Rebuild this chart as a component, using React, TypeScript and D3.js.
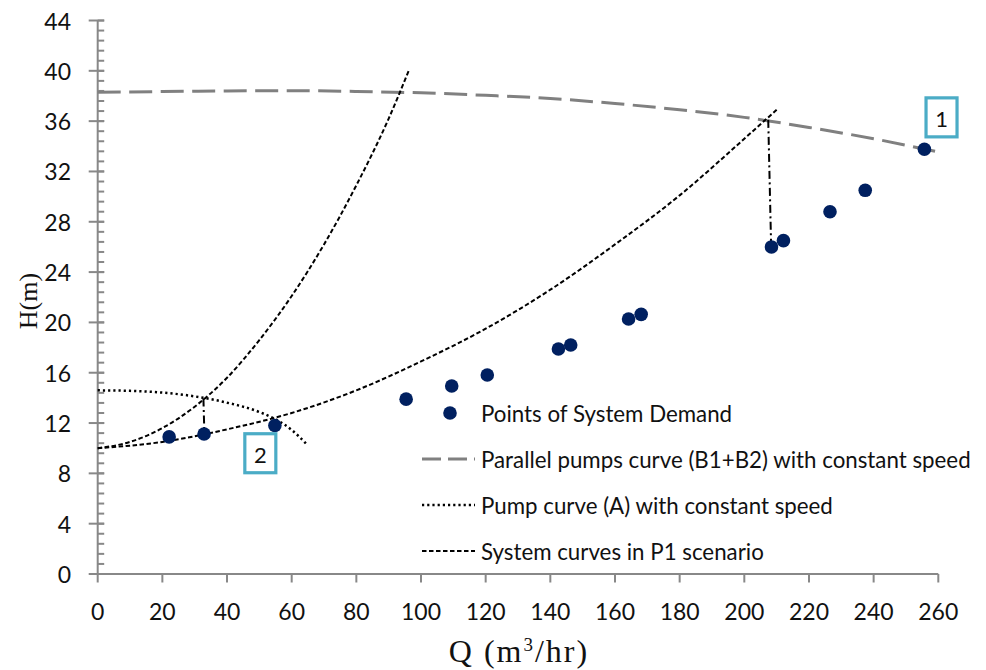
import React from "react";
import * as d3 from "d3";

// ---- data ----
const demandQ = [22.1, 32.9, 54.8, 95.4, 109.5, 120.5, 142.5, 146.3, 164.2, 168.1, 208.4, 212.1, 226.5, 237.4, 255.7];
const demandH = [10.9, 11.13, 11.8, 13.9, 14.94, 15.82, 17.89, 18.2, 20.27, 20.64, 26.0, 26.5, 28.8, 30.5, 33.76];

const parallelQ = [0, 20, 40, 60, 80, 100, 120, 140, 160, 180, 200, 220, 240, 259];
const parallelH = [38.3, 38.35, 38.4, 38.42, 38.36, 38.25, 38.05, 37.8, 37.4, 36.9, 36.3, 35.5, 34.6, 33.6];

const pumpAQ = [0, 10, 20, 30, 40, 50, 55, 60, 64.5];
const pumpAH = [14.6, 14.56, 14.42, 14.12, 13.62, 12.88, 12.3, 11.45, 10.35];

const sysSteepQ = [0, 10, 20, 30, 40, 50, 60, 70, 80, 90, 96.2];
const sysSteepH = [10, 10.5, 11.6, 13.3, 15.6, 18.6, 22.1, 26.2, 30.9, 36.2, 40.0];

const sysLowQ = [0, 20, 40, 60, 80, 100, 120, 140, 160, 180, 200, 210];
const sysLowH = [10, 10.5, 11.5, 12.8, 14.6, 16.9, 19.5, 22.6, 26.2, 30.1, 34.6, 36.9];

// operating-point drop lines (Q, H) pairs
const dropLines = [
  [[32.7, 13.95], [33.0, 11.1]],
  [[207.4, 36.1], [208.3, 26.0]],
];

const annotations = [
  { label: "1", q: 261, h: 36.3 },
  { label: "2", q: 50.3, h: 9.6 },
];

const xTicks = [0, 20, 40, 60, 80, 100, 120, 140, 160, 180, 200, 220, 240, 260];
const yTicks = [0, 4, 8, 12, 16, 20, 24, 28, 32, 36, 40, 44];
const yMinorTicks = d3.range(0, 44.001, 0.8);

const legendItems = [
  { label: "Points of System Demand", kind: "point" },
  { label: "Parallel pumps curve (B1+B2) with constant speed", kind: "parallel" },
  { label: "Pump curve (A) with constant speed", kind: "pumpA" },
  { label: "System curves in P1 scenario", kind: "system" },
];

const W = 986;
const H = 670;
const AXIS = "#888888";
const NAVY = "#002060";
const TEAL = "#4BACC6";
const FONT = "Lato, 'Open Sans', sans-serif";
const SERIF = "'Liberation Serif', 'DejaVu Serif', serif";

const styles: Record<string, { stroke: string; width: number; dash: string }> = {
  parallel: { stroke: "#808080", width: 3, dash: "23,8.5" },
  pumpA: { stroke: "#000", width: 2.5, dash: "2.2,3" },
  system: { stroke: "#000", width: 2, dash: "4.5,2.5" },
};

export default function App() {
  const x = d3.scaleLinear().domain([0, 260]).range([97.7, 938.3]);
  const y = d3.scaleLinear().domain([0, 44]).range([574, 20.5]);
  const line = d3
    .line<[number, number]>()
    .x((d) => x(d[0]))
    .y((d) => y(d[1]))
    .curve(d3.curveMonotoneX);
  const zip = (a: number[], b: number[]) => a.map((v, i) => [v, b[i]] as [number, number]);

  const curves = [
    { pts: zip(parallelQ, parallelH), st: styles.parallel },
    { pts: zip(pumpAQ, pumpAH), st: styles.pumpA },
    { pts: zip(sysSteepQ, sysSteepH), st: styles.system },
    { pts: zip(sysLowQ, sysLowH), st: styles.system },
  ];

  const legendX = 450;
  const legendY0 = 413;
  const legendStep = 46;

  return (
    <svg
      width={W}
      height={H}
      style={{ position: "absolute", left: 0, top: 0, background: "#fff" }}
      xmlns="http://www.w3.org/2000/svg"
    >
      <rect width={W} height={H} fill="#fff" />
      {/* axes */}
      <g stroke={AXIS} strokeWidth={2} fill="none">
        <line x1={x(0)} x2={x(0)} y1={y(0)} y2={y(44)} />
        <line x1={x(0)} x2={x(260)} y1={y(0)} y2={y(0)} />
        {yMinorTicks.map((t) => (
          <line key={"m" + t} x1={x(0)} x2={x(0) + 6.5} y1={y(t)} y2={y(t)} />
        ))}
        {yTicks.map((t) => (
          <line key={"y" + t} x1={x(0) - 9} x2={x(0) + 6.5} y1={y(t)} y2={y(t)} />
        ))}
        {xTicks.map((t) => (
          <line key={"x" + t} x1={x(t)} x2={x(t)} y1={y(0)} y2={y(0) + 8.5} />
        ))}
      </g>
      <g fontFamily={FONT} fontSize={23} fill="#111">
        {yTicks.map((t) => (
          <text key={t} x={71} y={y(t)} textAnchor="end" dominantBaseline="central">
            {t}
          </text>
        ))}
        {xTicks.map((t) => (
          <text key={t} x={x(t)} y={611} textAnchor="middle" dominantBaseline="central">
            {t}
          </text>
        ))}
      </g>
      {/* axis titles */}
      <text
        x={28}
        y={301}
        transform="rotate(-90 28 301)"
        textAnchor="middle"
        dominantBaseline="central"
        fontFamily={SERIF}
        fontSize={26}
        fill="#111"
      >
        H(m)
      </text>
      <text
        x={519}
        y={662}
        textAnchor="middle"
        fontFamily={SERIF}
        fontSize={32}
        letterSpacing={2}
        fill="#111"
      >
        Q (m<tspan dy={-11} fontSize={19}>3</tspan>
        <tspan dy={11}>/hr)</tspan>
      </text>

      {/* curves */}
      {curves.map((c, i) => (
        <path
          key={i}
          d={line(c.pts) || ""}
          fill="none"
          stroke={c.st.stroke}
          strokeWidth={c.st.width}
          strokeDasharray={c.st.dash}
        />
      ))}
      {dropLines.map((l, i) => (
        <line
          key={i}
          x1={x(l[0][0])}
          y1={y(l[0][1])}
          x2={x(l[1][0])}
          y2={y(l[1][1])}
          stroke="#000"
          strokeWidth={2}
          strokeDasharray="8,3.5,2,3.5"
        />
      ))}

      {/* points */}
      {demandQ.map((q, i) => (
        <circle key={i} cx={x(q)} cy={y(demandH[i])} r={6.8} fill={NAVY} />
      ))}

      {/* annotation boxes */}
      {annotations.map((a) => (
        <g key={a.label}>
          <rect
            x={x(a.q) - 15.5}
            y={y(a.h) - 19.5}
            width={31}
            height={39}
            fill="none"
            stroke={TEAL}
            strokeWidth={3.2}
          />
          <text
            x={x(a.q)}
            y={y(a.h) + 1}
            textAnchor="middle"
            dominantBaseline="central"
            fontFamily={FONT}
            fontSize={22}
            fill="#111"
          >
            {a.label}
          </text>
        </g>
      ))}

      {/* legend */}
      <g fontFamily={FONT} fontSize={22.3} fill="#111">
        {legendItems.map((it, i) => {
          const cy = legendY0 + i * legendStep;
          const st = styles[it.kind];
          return (
            <g key={it.label}>
              {it.kind === "point" ? (
                <circle cx={legendX} cy={cy} r={6.8} fill={NAVY} />
              ) : (
                <line
                  x1={legendX - 28}
                  x2={legendX + 25}
                  y1={cy}
                  y2={cy}
                  stroke={st.stroke}
                  strokeWidth={st.width}
                  strokeDasharray={it.kind === "parallel" ? "19,7" : st.dash}
                />
              )}
              <text x={481} y={cy} dominantBaseline="central">
                {it.label}
              </text>
            </g>
          );
        })}
      </g>
    </svg>
  );
}
